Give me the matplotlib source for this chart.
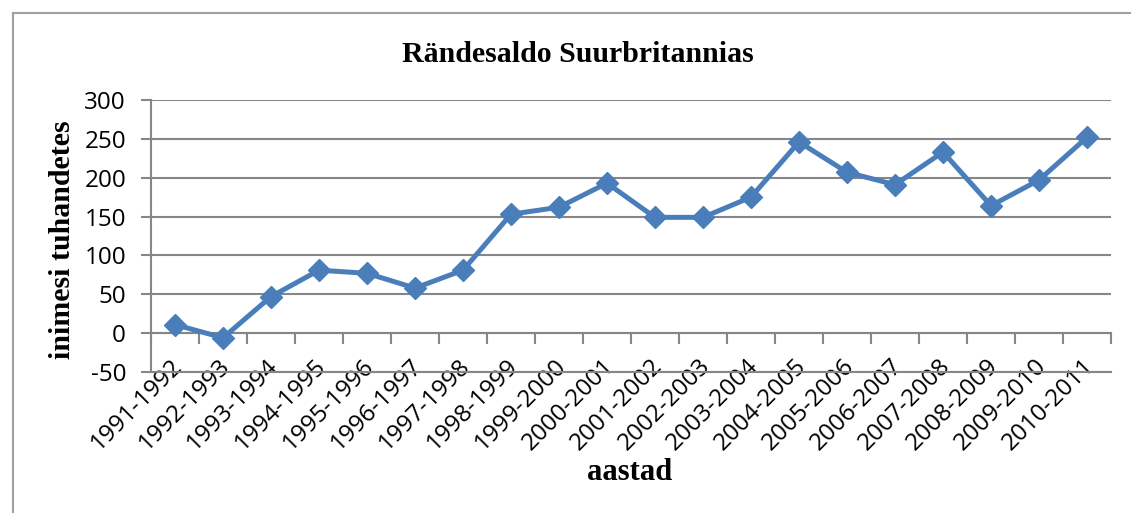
import numpy as np
import matplotlib.pyplot as plt
from matplotlib.patches import Rectangle
from matplotlib.transforms import ScaledTranslation

# data (thousands of people)
periods = ["1991-1992", "1992-1993", "1993-1994", "1994-1995", "1995-1996",
           "1996-1997", "1997-1998", "1998-1999", "1999-2000", "2000-2001",
           "2001-2002", "2002-2003", "2003-2004", "2004-2005", "2005-2006",
           "2006-2007", "2007-2008", "2008-2009", "2009-2010", "2010-2011"]
net_migration = [11, -6, 47, 81, 77, 58, 81, 153, 162, 193,
                 149, 149, 175, 246, 207, 191, 233, 164, 197, 252]
y_ticks = [-50, 0, 50, 100, 150, 200, 250, 300]

grid_col = "#868686"
line_col = "#4A7EBB"

fig = plt.figure(figsize=(11.31, 5.13), dpi=100)
ax = fig.add_axes([151 / 1131, 1 - 372 / 513, (1111 - 151) / 1131, (372 - 100) / 513])

x = np.arange(len(periods))
ax.plot(x, net_migration, color=line_col, lw=3.6, marker="D", ms=11.5,
        markerfacecolor=line_col, markeredgecolor=line_col, zorder=3)

ax.set_xlim(-0.5, len(periods) - 0.5)
ax.set_ylim(-50, 300)
ax.set_yticks(y_ticks)
ax.grid(axis="y", color=grid_col, lw=1.5)
ax.set_axisbelow(True)

for s in ["top", "right"]:
    ax.spines[s].set_visible(False)
ax.spines["left"].set_color(grid_col)
ax.spines["left"].set_linewidth(1.5)
ax.spines["bottom"].set_color(grid_col)
ax.spines["bottom"].set_linewidth(1.5)

tick_font = {"family": ["Open Sans", "DejaVu Sans"], "size": 17.5}
ax.tick_params(axis="y", length=7, width=1.5, color=grid_col, pad=11)
ax.set_yticklabels([str(v) for v in y_ticks], fontdict=tick_font)

# category labels at the bottom, without tick marks
ax.set_xticks(x)
ax.set_xticklabels(periods, fontdict=tick_font, rotation=45, ha="right",
                   rotation_mode="anchor")
ax.tick_params(axis="x", length=0, pad=0)
shift = ScaledTranslation(-5 / 100, 18 / 100, fig.dpi_scale_trans)
for lab in ax.get_xticklabels():
    lab.set_transform(lab.get_transform() + shift)

# category axis crosses at zero with boundary tick marks
sec = ax.secondary_xaxis(50 / 350)
sec.set_xticks(np.arange(len(periods) + 1) - 0.5)
sec.set_xticklabels([])
sec.tick_params(axis="x", direction="out", length=8, width=1.5, color=grid_col)
sec.spines["bottom"].set_color(grid_col)
sec.spines["bottom"].set_linewidth(1.5)

serif = ["Liberation Serif", "DejaVu Serif"]
fig.text(578 / 1131, 1 - 55 / 513, "Rändesaldo Suurbritannias", family=serif,
         fontweight="bold", fontsize=21.5, ha="center", va="center")
fig.text(630 / 1131, 1 - 473 / 513, "aastad", family=serif,
         fontweight="bold", fontsize=22, ha="center", va="center")
fig.text(62 / 1131, 1 - 240 / 513, "inimesi tuhandetes", family=serif,
         fontweight="bold", fontsize=21.5, ha="center", va="center", rotation=90)

# chart frame
fig.patches.append(Rectangle((13 / 1131, -0.1), 1.2, 1 - 13 / 513 + 0.1,
                             transform=fig.transFigure, fill=False,
                             edgecolor="#A0A0A0", lw=1.5))

fig.savefig("out.png", dpi=100)
